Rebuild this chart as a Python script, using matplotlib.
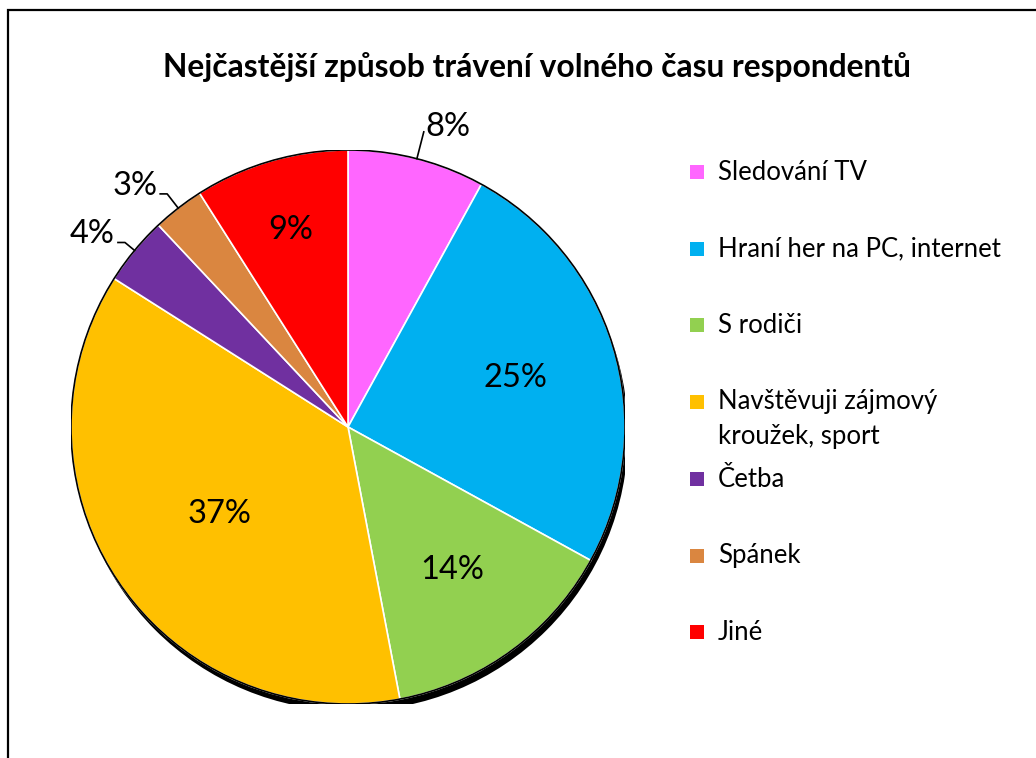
import numpy as np
import matplotlib
matplotlib.use('Agg')
import matplotlib.pyplot as plt
from matplotlib.patches import Circle, Rectangle

plt.rcParams['font.family'] = ['Lato', 'DejaVu Sans']

# data
title = 'Nejčastější způsob trávení volného času respondentů'
categories = ['Sledování TV', 'Hraní her na PC, internet', 'S rodiči',
              'Navštěvuji zájmový\nkroužek, sport', 'Četba', 'Spánek', 'Jiné']
values = [8, 25, 14, 37, 4, 3, 9]
colors = ['#FF66FF', '#00B0F0', '#92D050', '#FFC000', '#7030A0', '#DA8640', '#FF0000']

# label radius (fraction of pie radius); > 1 means outside with leader line
label_dist = [1.10, 0.63, 0.64, 0.56, 1.045, 1.065, 0.74]

W, H = 1036, 758
fig = plt.figure(figsize=(W / 100, H / 100), dpi=100)

# outer frame (right and bottom edges fall outside the image)
fig.patches.append(Rectangle((8 / W, -0.05), 1.2, 1.05 - 10 / H,
                             transform=fig.transFigure, fill=False,
                             edgecolor='black', linewidth=1.6))

cx, cy, r = 348, 427, 277
ax = fig.add_axes([(cx - r) / W, (H - cy - r) / H, 2 * r / W, 2 * r / H])
px = 1 / r  # one pixel in data units

# shadow + outline
ax.add_patch(Circle((3 * px, -7 * px), 1.0, facecolor='black', zorder=0))
wedges, _ = ax.pie(values, colors=colors, startangle=90, counterclock=False,
                   radius=1.0, wedgeprops=dict(edgecolor='white', linewidth=1.2))
ax.add_patch(Circle((0, 0), 1.0, fill=False, edgecolor='black', linewidth=1.2, zorder=5))
ax.set_xlim(-1, 1)
ax.set_ylim(-1, 1)
ax.set_aspect('equal')
ax.axis('off')

pct_size = 23.5
for w, v, d in zip(wedges, values, label_dist):
    ang = np.deg2rad((w.theta1 + w.theta2) / 2)
    x, y = np.cos(ang), np.sin(ang)
    txt = f'{v}%'
    if d > 1:
        ex, ey = d * x, d * y
        if x > 0:
            ax.plot([x, ex], [y, ey], color='black', lw=1.2, clip_on=False)
            ax.annotate(txt, (ex, ey), xytext=(2, 5), textcoords='offset pixels',
                        fontsize=pct_size, ha='left', va='center', annotation_clip=False)
        else:
            ax.plot([x, ex, ex - 7 * px], [y, ey, ey], color='black', lw=1.2, clip_on=False)
            ax.annotate(txt, (ex, ey), xytext=(-10, 8), textcoords='offset pixels',
                        fontsize=pct_size, ha='right', va='center', annotation_clip=False)
    else:
        ax.text(d * x, d * y, txt, fontsize=pct_size, ha='center', va='center')

fig.text(537 / W, 1 - 67 / H, title, fontsize=22.9, fontweight='bold',
         ha='center', va='center')

# legend, entries aligned on first text line like the original
leg_x, leg_y, leg_step, box, line_h = 690, 172, 76.7, 14, 34
for i, (lab, col) in enumerate(zip(categories, colors)):
    yy = leg_y + i * leg_step
    extra = lab.count('\n') * line_h
    fig.patches.append(Rectangle((leg_x / W, 1 - (yy + box / 2) / H), box / W, box / H,
                                 transform=fig.transFigure, facecolor=col, edgecolor='none'))
    fig.text((leg_x + box + 14) / W, 1 - (yy + 8 + extra) / H, lab, fontsize=18.5,
             ha='left', va='baseline', linespacing=1.5)

fig.savefig('out.png', dpi=100)
